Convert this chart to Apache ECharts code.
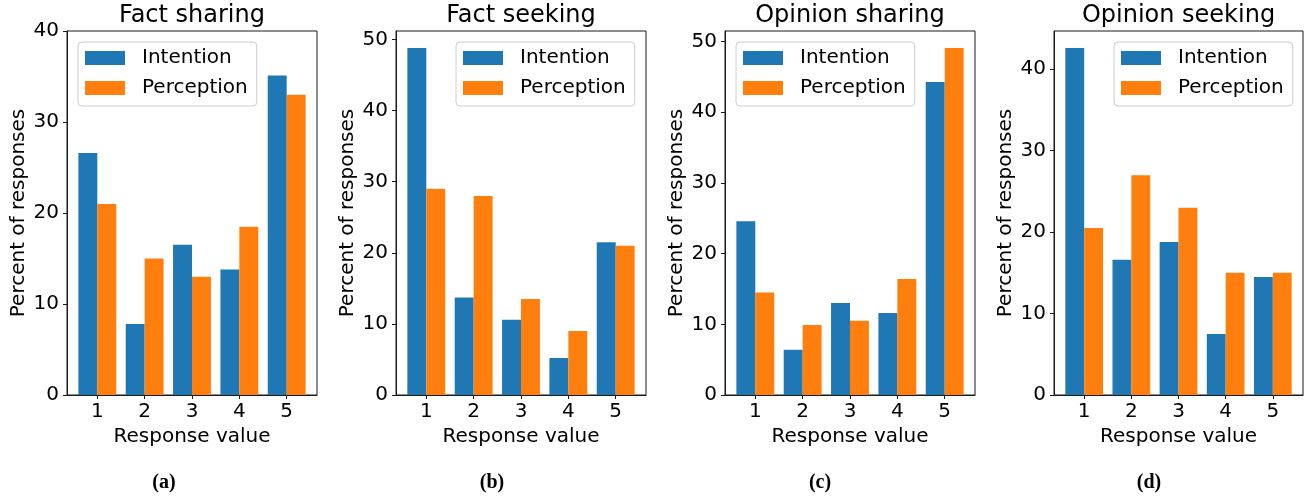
<!DOCTYPE html>
<html>
<head>
<meta charset="utf-8">
<script src="https://cdn.jsdelivr.net/npm/echarts@6/dist/echarts.min.js"></script>
<style>
html,body{margin:0;padding:0;background:#fff;}
#chart{width:1313px;height:500px;}
</style>
</head>
<body>
<div id="chart"></div>
<script>
const categories = [1, 2, 3, 4, 5];
const panelTitles = ['Fact sharing', 'Fact seeking', 'Opinion sharing', 'Opinion seeking'];
const captions = ['(a)', '(b)', '(c)', '(d)'];
const seriesNames = ['Intention', 'Perception'];

const intentionFactSharing = [26.6, 7.8, 16.5, 13.8, 35.1];
const perceptionFactSharing = [21.0, 15.0, 13.0, 18.5, 33.0];
const intentionFactSeeking = [48.8, 13.7, 10.6, 5.2, 21.5];
const perceptionFactSeeking = [29.0, 28.0, 13.5, 9.0, 21.0];
const intentionOpinionSharing = [24.6, 6.4, 13.0, 11.6, 44.3];
const perceptionOpinionSharing = [14.5, 9.9, 10.5, 16.4, 49.1];
const intentionOpinionSeeking = [42.6, 16.6, 18.8, 7.5, 14.5];
const perceptionOpinionSeeking = [20.5, 27.0, 23.0, 15.0, 15.0];

const yTickLabels = [
  [0, 10, 20, 30, 40],
  [0, 10, 20, 30, 40, 50],
  [0, 10, 20, 30, 40, 50],
  [0, 10, 20, 30, 40]
];
const yMax = [40, 51.2, 51.5, 44.7];

const panelData = [
  [intentionFactSharing, perceptionFactSharing],
  [intentionFactSeeking, perceptionFactSeeking],
  [intentionOpinionSharing, perceptionOpinionSharing],
  [intentionOpinionSeeking, perceptionOpinionSeeking]
];

// layout
const gridLeft = [67, 396, 725, 1054];
const gridWidth = [250, 250, 250, 249];
const gridTop = 31, gridHeight = 364;
const legendLeft = [78, 456, 736, 1114];
const captionX = [164, 492, 820, 1149];
const colors = ['#1f77b4', '#ff7f0e'];
const FONT = 'DejaVu Sans';
const lineColor = '#1a1a1a';

const chart = echarts.init(document.getElementById('chart'), null, {renderer: 'canvas'});

const grid = [], xAxis = [], yAxis = [], series = [], legend = [], title = [];

for (let p = 0; p < 4; p++) {
  grid.push({
    left: gridLeft[p], top: gridTop, width: gridWidth[p], height: gridHeight,
    show: true, borderColor: lineColor, borderWidth: 1, backgroundColor: 'transparent',
    containLabel: false
  });
  xAxis.push({
    type: 'value', gridIndex: p, min: 0.36, max: 5.64,
    name: 'Response value', nameLocation: 'middle', nameGap: 32,
    nameTextStyle: {fontFamily: FONT, fontSize: 20, color: '#000'},
    axisLine: {show: true, lineStyle: {color: lineColor, width: 1}},
    axisTick: {show: true, length: 4, inside: false, customValues: categories, lineStyle: {color: lineColor, width: 1}},
    axisLabel: {show: true, customValues: categories, margin: 7, fontFamily: FONT, fontSize: 20, color: '#000'},
    splitLine: {show: false}
  });
  yAxis.push({
    type: 'value', gridIndex: p, min: 0, max: yMax[p],
    name: 'Percent of responses', nameLocation: 'middle', nameGap: 38,
    nameTextStyle: {fontFamily: FONT, fontSize: 20, color: '#000'},
    axisLine: {show: true, lineStyle: {color: lineColor, width: 1}},
    axisTick: {show: true, length: 4, inside: false, customValues: yTickLabels[p], lineStyle: {color: lineColor, width: 1}},
    axisLabel: {show: true, customValues: yTickLabels[p], margin: 8, fontFamily: FONT, fontSize: 20, color: '#000'},
    splitLine: {show: false}
  });
  for (let s = 0; s < 2; s++) {
    series.push({
      type: 'bar', name: seriesNames[s], xAxisIndex: p, yAxisIndex: p,
      data: categories.map((c, i) => [c, panelData[p][s][i]]),
      barWidth: '40%', barGap: '0%',
      itemStyle: {color: colors[s]},
      emphasis: {disabled: true},
      animation: false
    });
  }
  legend.push({
    data: seriesNames, orient: 'vertical', left: legendLeft[p], top: 42,
    itemWidth: 40, itemHeight: 14, itemGap: 10,
    icon: 'rect',
    padding: [6, 9, 8, 7],
    backgroundColor: 'rgba(255,255,255,0.8)',
    borderColor: '#cccccc', borderWidth: 1, borderRadius: 4,
    textStyle: {fontFamily: FONT, fontSize: 20, color: '#000', padding: [0, 0, 0, 12]},
    selectedMode: false
  });
  title.push({
    text: panelTitles[p], left: gridLeft[p] + gridWidth[p] / 2, top: 4, textAlign: 'center',
    padding: 0,
    textStyle: {fontFamily: FONT, fontSize: 24, fontWeight: 'normal', color: '#000'}
  });
  title.push({
    text: captions[p], left: captionX[p], top: 473, textAlign: 'center',
    padding: 0,
    textStyle: {fontFamily: 'Liberation Serif', fontSize: 20, fontWeight: 'bold', color: '#000'}
  });
}

chart.setOption({
  animation: false,
  backgroundColor: '#ffffff',
  title, grid, xAxis, yAxis, series, legend
});
</script>
</body>
</html>
